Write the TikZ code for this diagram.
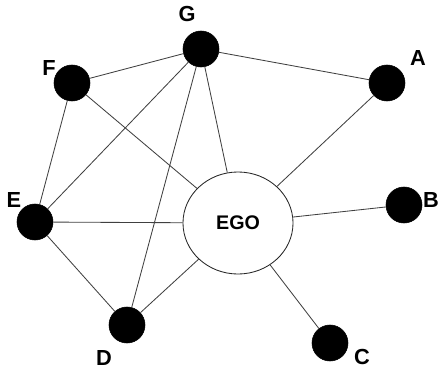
\documentclass[tikz,border=0pt]{standalone}
\usepackage{fontspec}
\setmainfont{Liberation Sans}
\usetikzlibrary{shapes.geometric, positioning}

\begin{document}
\begin{tikzpicture}[
    x=0.025cm, y=-0.025cm,
    member/.style={circle, fill=black, draw=black, minimum size=0.9cm, inner sep=0pt},
    ego/.style={ellipse, draw=black!85, line width=0.6pt, fill=white, minimum width=2.75cm, minimum height=2.55cm, font=\bfseries\fontsize{14}{16}\selectfont},
    tie/.style={black!75, line width=0.6pt},
    lbl/.style={font=\bfseries\fontsize{15.5}{18}\selectfont, inner sep=0pt}
]
\useasboundingbox (0,0) rectangle (440,369);

% Ego and alters
\node[ego] (ego) at (238,223) {EGO};
\node[member] (g) at (201,49) {};
\node[member] (f) at (72,83) {};
\node[member] (a) at (387,83) {};
\node[member] (e) at (35,222) {};
\node[member] (b) at (404,205) {};
\node[member] (d) at (127,325) {};
\node[member] (c) at (330,343) {};

% Labels
\node[lbl] (glbl) at (187,14) {G};
\node[lbl] (flbl) at (49,68) {F};
\node[lbl] (albl) at (418,58) {A};
\node[lbl] (elbl) at (14,200) {E};
\node[lbl] (blbl) at (431,200) {B};
\node[lbl] (dlbl) at (104,358) {D};
\node[lbl] (clbl) at (362,357) {C};

% Ties
\foreach \u/\v in {g/f, g/a, g/e, g/d, g/ego, f/e, f/ego, e/ego, e/d, d/ego, a/ego, b/ego, c/ego} {
    \draw[tie] (\u) -- (\v);
}

\end{tikzpicture}
\end{document}
